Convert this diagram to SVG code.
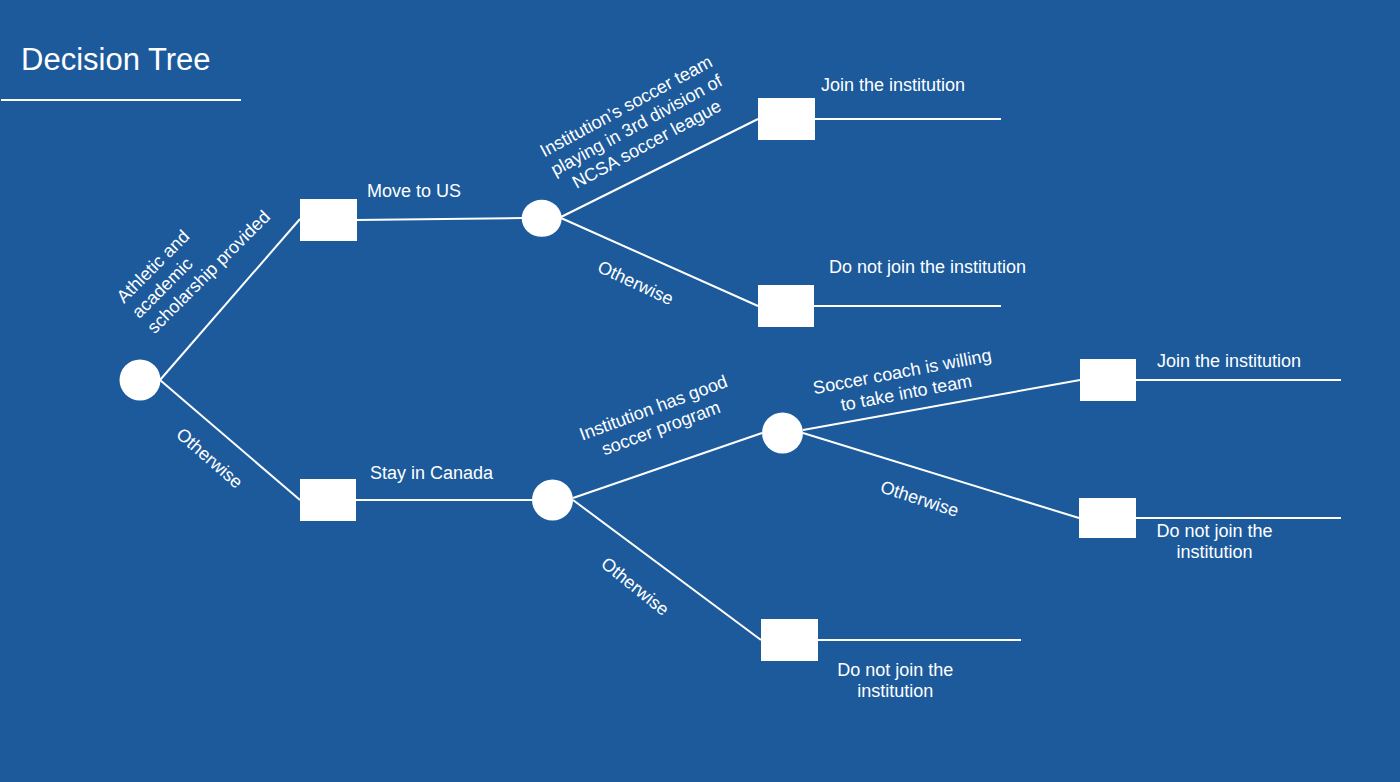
<svg xmlns="http://www.w3.org/2000/svg" width="1400" height="782" viewBox="0 0 1400 782">
<style>
.lbl{font-family:"Liberation Sans",Arial,sans-serif;font-size:18px;fill:#ffffff}
.ttl{font-family:"Liberation Sans",Arial,sans-serif;font-size:31px;fill:#ffffff}
.mid{text-anchor:middle}
.conn line{stroke:#ffffff;stroke-width:2;fill:none}
.box{fill:#ffffff}
.chance{fill:#ffffff}
</style>
<rect x="0" y="0" width="1400" height="782" fill="#1c5a9c"/>
<g id="title">
<text class="ttl" x="21" y="70">Decision Tree</text>
<line x1="1" y1="100" x2="241" y2="100" stroke="#ffffff" stroke-width="2"/>
</g>
<g id="connectors" class="conn">
<line x1="160" y1="380" x2="300" y2="219"/>
<line x1="160" y1="380" x2="300" y2="500"/>
<line x1="356" y1="220" x2="522" y2="218"/>
<line x1="561" y1="217" x2="758" y2="119"/>
<line x1="561" y1="218" x2="758" y2="306"/>
<line x1="815" y1="119" x2="1001" y2="119"/>
<line x1="814" y1="306" x2="1001" y2="306"/>
<line x1="356" y1="500" x2="532" y2="500"/>
<line x1="573" y1="498" x2="762" y2="433"/>
<line x1="573" y1="500" x2="761" y2="640"/>
<line x1="817" y1="640" x2="1021" y2="640"/>
<line x1="803" y1="430" x2="1080" y2="380"/>
<line x1="803" y1="433" x2="1079" y2="518"/>
<line x1="1136" y1="380" x2="1341" y2="380"/>
<line x1="1136" y1="518" x2="1341" y2="518"/>
</g>
<g id="c1"><circle class="chance" cx="140" cy="380" r="20.5"/></g>
<g id="r1"><rect class="box" x="300" y="199" width="57" height="42"/></g>
<g id="r2"><rect class="box" x="300" y="479" width="56" height="42"/></g>
<g id="c2"><ellipse class="chance" cx="541.7" cy="218.3" rx="20" ry="18.5"/></g>
<g id="c3"><circle class="chance" cx="552.5" cy="500" r="20.5"/></g>
<g id="c4"><circle class="chance" cx="782.5" cy="433" r="20.5"/></g>
<g id="r3"><rect class="box" x="758" y="98" width="57" height="42"/></g>
<g id="r4"><rect class="box" x="758" y="285" width="56" height="42"/></g>
<g id="r5"><rect class="box" x="1080" y="359" width="56" height="42"/></g>
<g id="r6"><rect class="box" x="1079" y="498" width="57" height="40"/></g>
<g id="r7"><rect class="box" x="761" y="619" width="57" height="42"/></g>
<g id="labels">
<text class="lbl" transform="translate(124,304) rotate(-45)"><tspan x="0" y="0">Athletic and</tspan><tspan x="0" dy="21.6">academic</tspan><tspan x="0" dy="21.6">scholarship provided</tspan></text>
<text class="lbl mid" transform="translate(205.6,462.7) rotate(41)">Otherwise</text>
<text class="lbl" x="367" y="196.5">Move to US</text>
<text class="lbl" x="370" y="479">Stay in Canada</text>
<text class="lbl mid" transform="translate(629,111.5) rotate(-28.5)"><tspan x="0" y="0">Institution’s soccer team</tspan><tspan x="0" dy="21.6">playing in 3rd division of</tspan><tspan x="0" dy="21.6">NCSA soccer league</tspan></text>
<text class="lbl mid" transform="translate(633,288.4) rotate(25)">Otherwise</text>
<text class="lbl" x="821" y="90.5">Join the institution</text>
<text class="lbl" x="829" y="272.5">Do not join the institution</text>
<text class="lbl mid" transform="translate(655.5,413.5) rotate(-20.4)"><tspan x="0" y="0">Institution has good</tspan><tspan x="0" dy="21.6">soccer program</tspan></text>
<text class="lbl mid" transform="translate(631.3,591.2) rotate(38.8)">Otherwise</text>
<text class="lbl mid" transform="translate(903.3,377.5) rotate(-10.7)"><tspan x="0" y="0">Soccer coach is willing</tspan><tspan x="0" dy="21.6">to take into team</tspan></text>
<text class="lbl mid" transform="translate(917.7,504.5) rotate(18)">Otherwise</text>
<text class="lbl" x="1157" y="367.3">Join the institution</text>
<text class="lbl mid" x="1214.5" y="537.3"><tspan x="1214.5">Do not join the</tspan><tspan x="1214.5" dy="21">institution</tspan></text>
<text class="lbl mid" x="895.3" y="676"><tspan x="895.3">Do not join the</tspan><tspan x="895.3" dy="21.3">institution</tspan></text>
</g>
</svg>
